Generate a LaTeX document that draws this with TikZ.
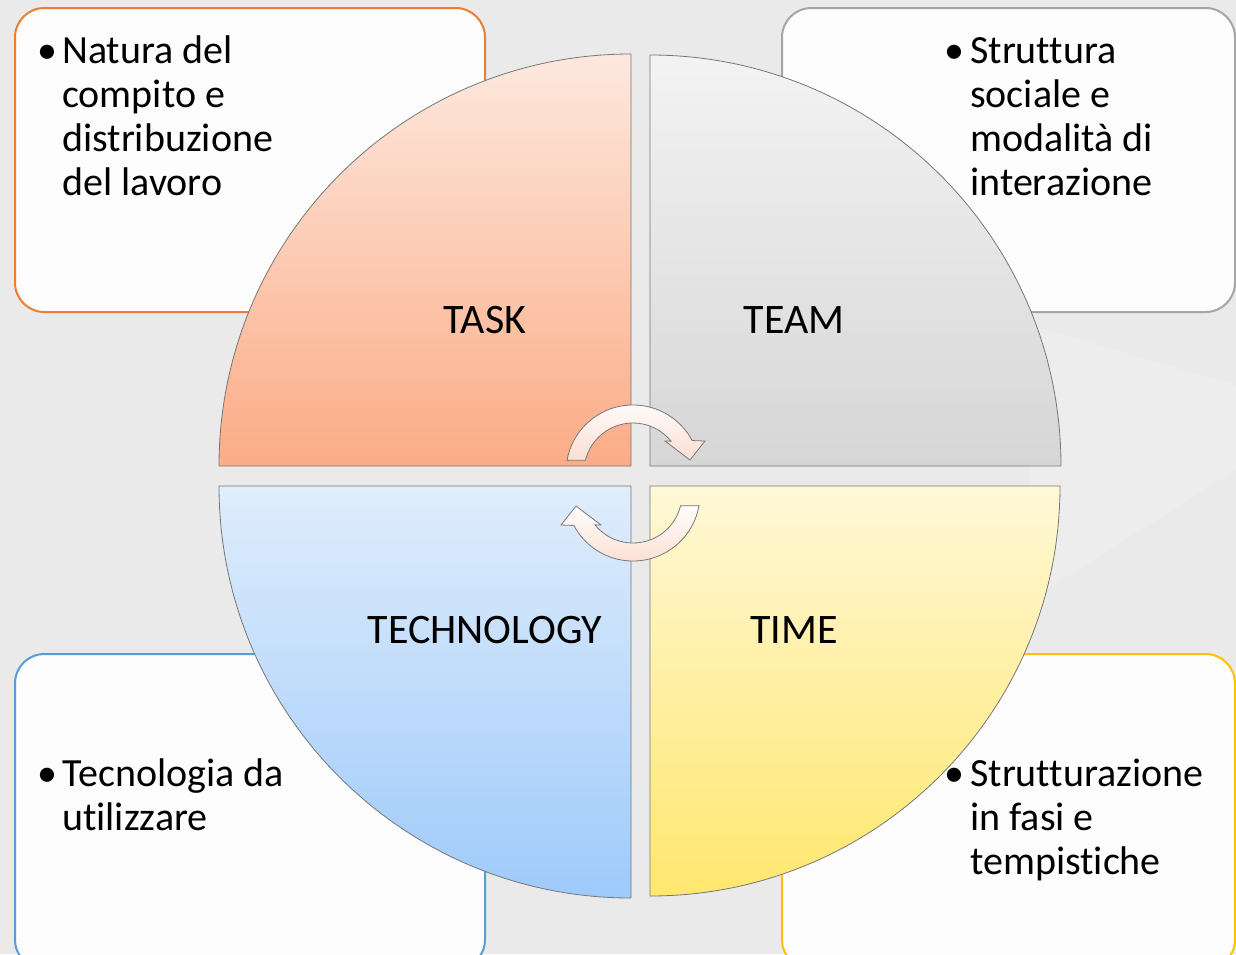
\documentclass[tikz,border=0pt]{standalone}
\usepackage{fontspec}
\setmainfont{Carlito}[Ligatures=NoCommon]
\usetikzlibrary{calc}

\definecolor{taskhi}{RGB}{253,232,222}
\definecolor{tasklo}{RGB}{251,172,134}
\definecolor{teamhi}{RGB}{243,243,243}
\definecolor{teamlo}{RGB}{214,214,214}
\definecolor{techhi}{RGB}{224,237,252}
\definecolor{techlo}{RGB}{158,202,250}
\definecolor{timehi}{RGB}{255,248,215}
\definecolor{timelo}{RGB}{255,231,110}
\definecolor{cychi}{RGB}{255,253,252}
\definecolor{cyclo}{RGB}{251,222,210}

\begin{document}
\begin{tikzpicture}[x=0.75pt,y=0.75pt,yscale=-1,
  card/.style={line width=1.5pt, rounded corners=22pt, fill={rgb, 255:red, 253; green, 253; blue, 253 }},
  quarter/.style={draw={rgb, 255:red, 118; green, 118; blue, 118 }, line width=0.6pt},
  cyc/.style={draw={rgb, 255:red, 120; green, 120; blue, 120 }, line width=0.6pt, top color=cychi, bottom color=cyclo},
  lbl/.style={anchor=base, inner sep=0pt, font=\fontsize{31.5}{33}\selectfont},
  bul/.style={anchor=base, inner sep=0pt, font=\fontsize{30}{33}\selectfont},
  itemtxt/.style={anchor=base west, inner sep=0pt, align=left, font=\fontsize{30}{33}\selectfont}]
\useasboundingbox (0,0) rectangle (1236,954);
\clip (0,0) rectangle (1236,954);

%Background
\fill [color={rgb, 255:red, 234; green, 234; blue, 234 }] (0,0) rectangle (1236,954);
\fill [white, opacity=0.15] (1030,325) -- (1236,385) -- (1236,470) -- (1030,600) -- cycle;

%Shape: Rounded Rect (corner notes)
\draw [card, draw={rgb, 255:red, 237; green, 125; blue, 49 }] (15,8) rectangle (485,312);
\draw [card, draw={rgb, 255:red, 165; green, 165; blue, 165 }] (782,8) rectangle (1235,312);
\draw [card, draw={rgb, 255:red, 91; green, 155; blue, 213 }] (15,654) rectangle (485,969);
\draw [card, draw={rgb, 255:red, 255; green, 192; blue, 0 }] (782,654) rectangle (1235,969);

%Shape: Quarter circles
\shade [quarter, top color=taskhi, bottom color=tasklo] (631,466) -- (219,466) arc [start angle=180, end angle=270, radius=412] -- cycle;
\shade [quarter, top color=teamhi, bottom color=teamlo] (650,466) -- (650,55) arc [start angle=270, end angle=360, radius=411] -- cycle;
\shade [quarter, top color=techhi, bottom color=techlo] (631,486) -- (219,486) arc [start angle=180, end angle=90, radius=412] -- cycle;
\shade [quarter, top color=timehi, bottom color=timelo] (650,486) -- (1060,486) arc [start angle=0, end angle=90, radius=410] -- cycle;

%Shape: Circular arrows
\coordinate (cwmid) at (633,472);
\coordinate (ccwmid) at (633,494);
\shade [cyc] ($(cwmid)+(190:67)$) arc [start angle=190, end angle=332, radius=67] -- (705,441) -- (690,460) -- (665,441) -- ($(cwmid)+(321:49)$) arc [start angle=321, end angle=194, radius=49] -- cycle;
\shade [cyc] ($(ccwmid)+(10:67)$) arc [start angle=10, end angle=152, radius=67] -- (561,525) -- (576,506) -- (601,525) -- ($(ccwmid)+(141:49)$) arc [start angle=141, end angle=14, radius=49] -- cycle;

% Text Node
\node [lbl] (task) at (485,333) {TASK};
% Text Node
\node [lbl] (team) at (794,333) {TEAM};
% Text Node
\node [lbl] (tech) at (485,643) {TECHNOLOGY};
% Text Node
\node [lbl] (time) at (794,643) {TIME};

% Text Node (anchored on the last line)
\node [bul] (taskdot) at (47,63) {\textbullet};
\node [itemtxt] (tasknote) at (62,195) {Natura del\\compito e\\distribuzione\\del lavoro};
% Text Node
\node [bul] (teamdot) at (954,63) {\textbullet};
\node [itemtxt] (teamnote) at (970,195) {Struttura\\sociale e\\modalità di\\interazione};
% Text Node
\node [bul] (techdot) at (47,786) {\textbullet};
\node [itemtxt] (technote) at (62,830) {Tecnologia da\\utilizzare};
% Text Node
\node [bul] (timedot) at (954,786) {\textbullet};
\node [itemtxt] (timenote) at (970,874) {Strutturazione\\in fasi e\\tempistiche};

\end{tikzpicture}
\end{document}
